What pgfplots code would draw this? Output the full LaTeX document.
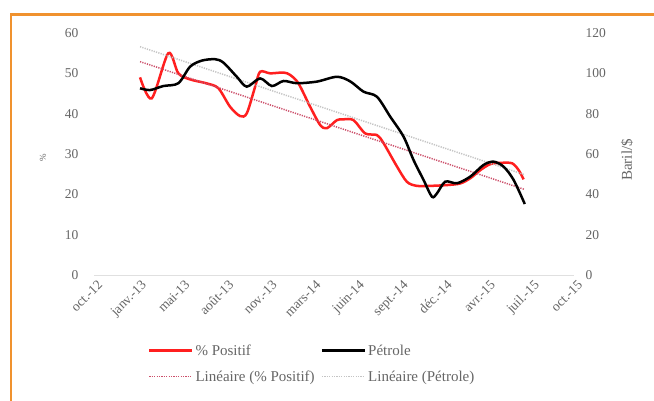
\documentclass[border=0pt]{standalone}
\usepackage{fontspec}
\setmainfont{Liberation Serif}
\usepackage{pgfplots}
\pgfplotsset{compat=1.18}

\definecolor{rouge}{HTML}{FF1F1F}
\definecolor{trpos}{HTML}{CC4F6A}
\definecolor{trpet}{HTML}{C4C4C4}
\definecolor{txt}{HTML}{666666}
\definecolor{cadre}{HTML}{F0922E}

\newcommand{\tickfont}{\fontsize{13.5bp}{15bp}\selectfont}
\newcommand{\legfont}{\fontsize{15bp}{17bp}\selectfont}

\pgfplotsset{
  base/.style={
    scale only axis, width=480bp, height=242bp,
    at={(94bp,126bp)}, anchor=south west,
    xmin=0, xmax=11, ymin=0,
    major tick length=0pt,
    /pgf/number format/assume math mode=true,
    yticklabel style={font=\tickfont, text=txt},
    legend image code/.code={\draw[#1] (0bp,0bp) -- (43bp,0bp);},
  },
}

\begin{document}
\begin{tikzpicture}
\useasboundingbox (0,0) rectangle (654bp,401bp);
\fill[white] (0,0) rectangle (654bp,401bp);
\draw[cadre, line width=2.5bp] (11bp,-5bp) -- (11bp,386.5bp) -- (660bp,386.5bp);

% axe gauche : % positif
\begin{axis}[base,
  ymax=60, ytick={0,10,...,60},
  axis x line*=bottom, axis y line*=left,
  x axis line style={draw=black!12, line width=0.8bp},
  y axis line style={draw=none},
  xtick={0,...,11},
  xticklabels={oct.-12,janv.-13,mai-13,août-13,nov.-13,mars-14,juin-14,sept.-14,déc.-14,avr.-15,juil.-15,oct.-15},
  xticklabel style={rotate=45, anchor=north east, font=\tickfont, text=txt, inner sep=1bp, yshift=-4bp},
  yticklabel style={xshift=-12bp},
  legend columns=2, legend cell align=left,
  legend style={at={(0.106,-0.27)}, anchor=north west, draw=none, fill=none,
    font=\legfont, text=txt, row sep=10bp,
    /tikz/every even column/.append style={column sep=4bp}},
]
\addplot[rouge, line width=2.5bp, smooth] coordinates {
(1.055,49.0)(1.323,43.8)(1.704,55.0)(1.933,50.0)(2.202,48.5)(2.585,47.5)
(2.851,46.3)(3.119,41.7)(3.349,39.4)(3.502,40.1)(3.693,46.7)(3.807,50.4)
(4.037,50.0)(4.342,50.2)(4.495,49.6)(4.686,47.5)(4.954,41.7)(5.183,37.2)
(5.337,36.4)(5.567,38.4)(5.718,38.6)(5.947,38.4)(6.216,35.1)(6.484,34.7)
(6.635,32.7)(6.943,26.9)(7.172,23.1)(7.401,22.1)(7.706,22.1)(8.089,22.3)
(8.394,22.7)(8.624,24.0)(8.853,26.0)(9.083,27.5)(9.312,27.8)(9.580,27.7)
(9.732,26.0)(9.846,23.7)
};
\addlegendentry{\% Positif}
\addlegendimage{black, line width=2.5bp}
\addlegendentry{Pétrole}
\addplot[trpos, line width=1.5bp, dash pattern=on 1.2bp off 1.2bp] coordinates {
(1.055,52.9)(9.872,21.2)
};
\addlegendentry{Linéaire (\% Positif)}
\addlegendimage{trpet, line width=1.5bp, dash pattern=on 1.2bp off 1.2bp}
\addlegendentry{Linéaire (Pétrole)}
\end{axis}

% axe droit : pétrole
\begin{axis}[base,
  ymax=120, ytick={0,20,...,120},
  axis x line=none, axis y line*=right,
  y axis line style={draw=none},
  yticklabel style={anchor=west, xshift=8bp},
]
\addplot[trpet, line width=1.5bp, dash pattern=on 1.2bp off 1.2bp] coordinates {
(1.055,113.2)(9.872,49.7)
};
\addplot[black, line width=2.5bp, smooth] coordinates {
(1.055,92.6)(1.284,91.7)(1.589,93.7)(1.933,95.1)(2.202,103.3)(2.470,106.3)
(2.775,107.0)(2.966,105.3)(3.273,98.3)(3.502,93.4)(3.807,97.5)(4.076,93.7)
(4.342,96.2)(4.649,95.1)(5.108,95.9)(5.567,98.3)(5.872,96.0)(6.177,90.9)
(6.484,88.4)(6.789,78.5)(7.094,68.6)(7.323,57.0)(7.553,47.1)(7.745,38.8)
(7.860,40.5)(8.050,46.3)(8.319,45.5)(8.624,48.8)(8.929,54.6)(9.158,56.2)
(9.388,53.7)(9.617,47.1)(9.872,35.2)
};
\end{axis}

\node[rotate=90, font=\fontsize{9bp}{10bp}\selectfont, text=txt] at (43bp,243bp) {\%};
\node[rotate=90, font=\fontsize{15bp}{17bp}\selectfont, text=txt] at (627bp,241bp) {Baril/\$};
\end{tikzpicture}
\end{document}
